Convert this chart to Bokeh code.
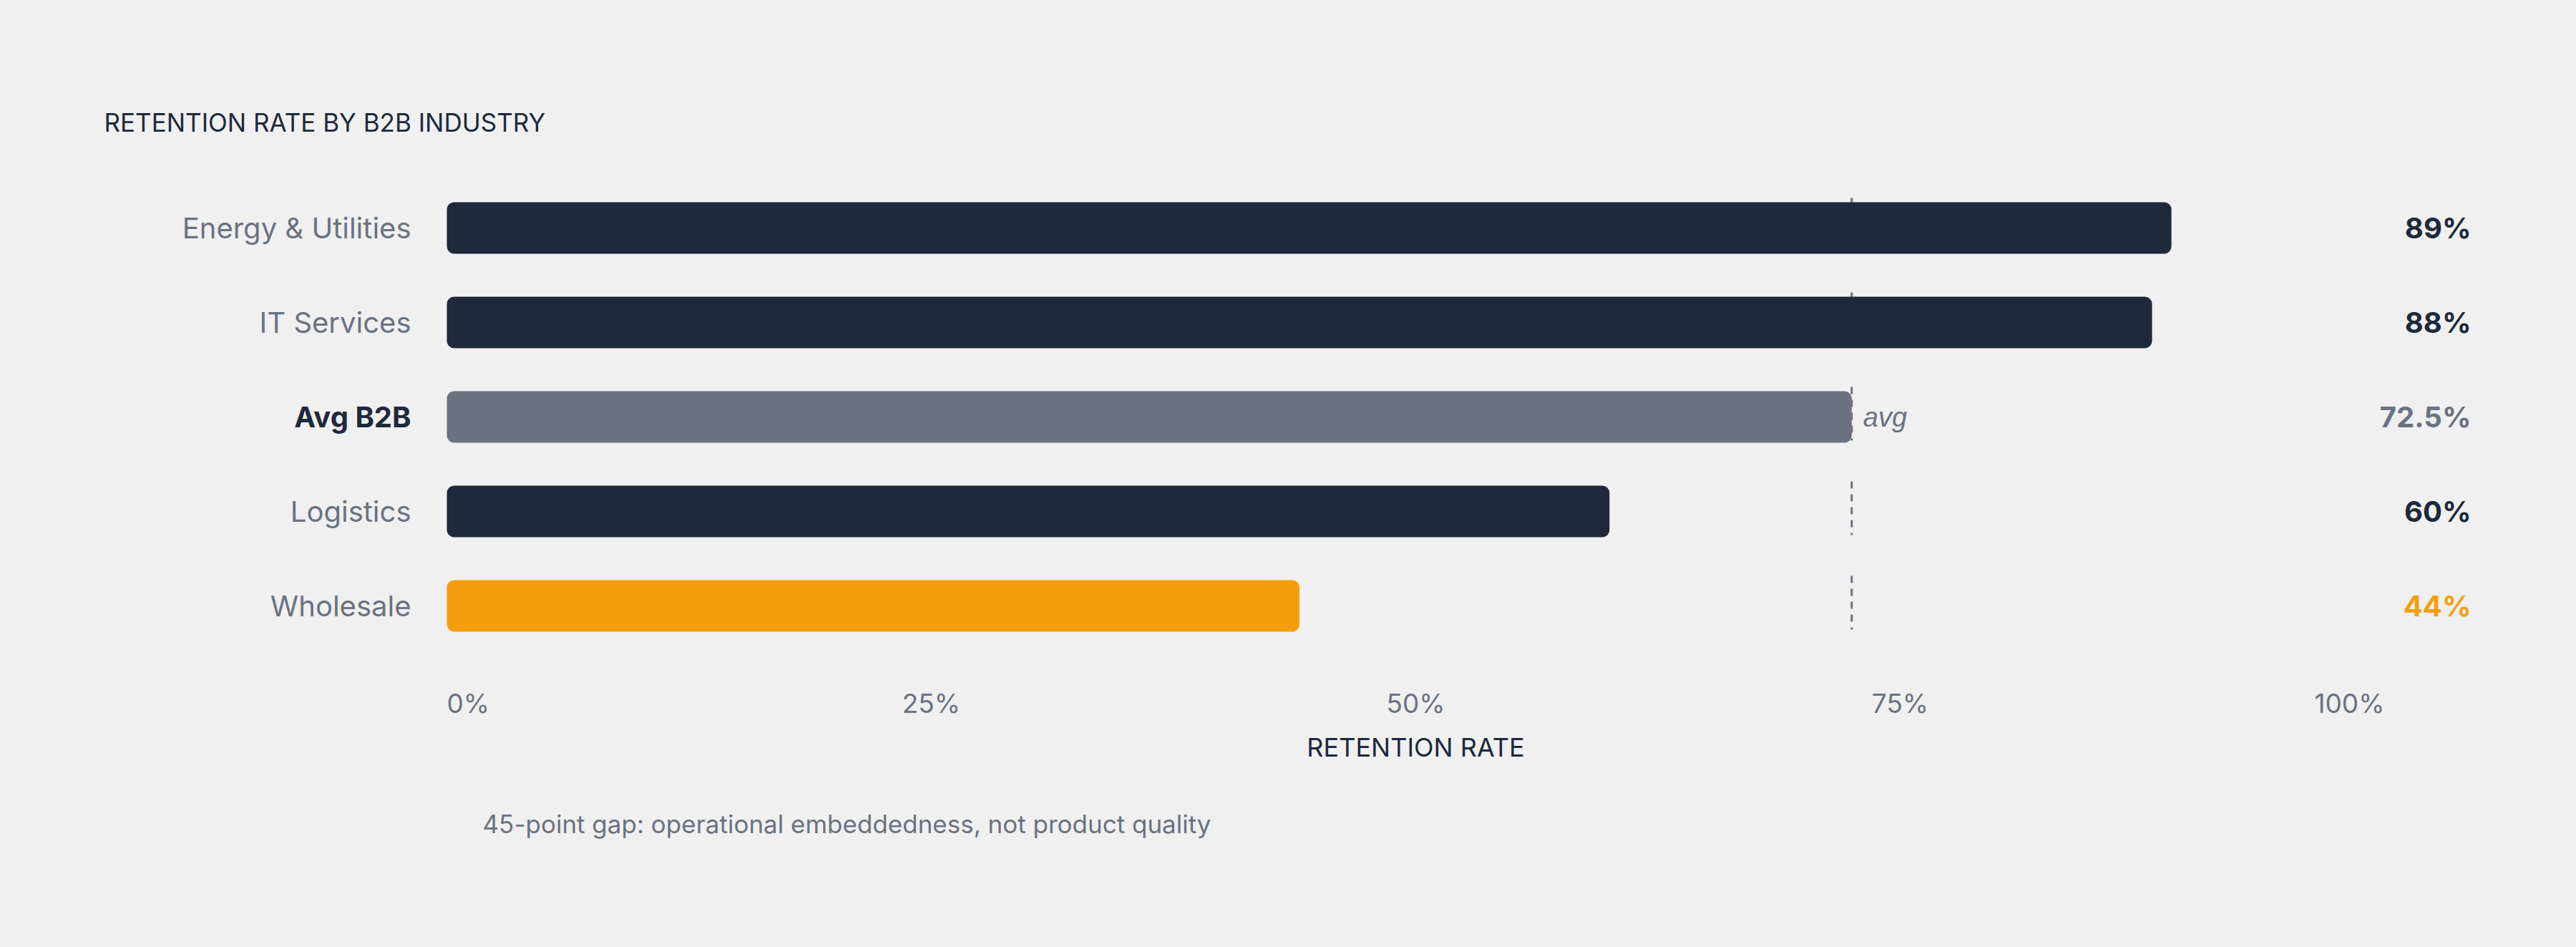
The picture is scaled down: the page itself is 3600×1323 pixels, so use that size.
from bokeh.plotting import figure
from bokeh.models import ColumnDataSource, Range1d
from bokeh.core.properties import value
from bokeh.embed import file_html
from bokeh.resources import INLINE

# data
industries = ["Energy & Utilities", "IT Services", "Avg B2B", "Logistics", "Wholesale"]
retention = [89, 88, 72.5, 60, 44]
value_labels = ["89%", "88%", "72.5%", "60%", "44%"]
avg_b2b = 72.5
tick_values = [0, 25, 50, 75, 100]
tick_labels = ["0%", "25%", "50%", "75%", "100%"]

# styling
DARK, GREY, ORANGE, BG = "#1e293b", "#6b7280", "#f59e0b", "#f0f0f0"
bar_colors = [DARK, DARK, GREY, DARK, ORANGE]
text_colors = [DARK, DARK, GREY, DARK, ORANGE]
name_colors = [GREY, GREY, DARK, GREY, GREY]
name_styles = ["normal", "normal", "bold", "normal", "normal"]

W, H = 3580, 1300
PX = 27.08          # pixels per percentage point
X0 = 624            # pixel position of 0%
ROW0, PITCH, BAR_H = 318, 132, 72
FONT = value("Inter")


def dx(px):
    return (px - X0) / PX


rows = [ROW0 + PITCH * i for i in range(len(industries))]
src = ColumnDataSource(dict(name=industries, val=retention, lab=value_labels, y=rows,
                            bar=bar_colors, txt=text_colors, ncol=name_colors,
                            nsty=name_styles,
                            y0=[r - 42 for r in rows], y1=[r + 33 for r in rows],
                            avg=[avg_b2b] * len(rows)))

p = figure(width=W, height=H, x_range=Range1d(dx(0), dx(W)), y_range=Range1d(H, 0),
           toolbar_location=None, output_backend="svg", min_border=0,
           x_axis_location=None, y_axis_location=None)
p.grid.visible = False
p.outline_line_color = None
p.background_fill_color = BG
p.border_fill_color = BG

# average marker (behind the bars)
p.segment(x0="avg", y0="y0", x1="avg", y1="y1", source=src,
          line_color=GREY, line_width=3, line_dash="10 8")

# bars
p.hbar(y="y", left=0, right="val", height=BAR_H, fill_color="bar", line_color=None,
       border_radius=10, source=src)

# category names
p.text(x=dx(574), y="y", text="name", source=src, text_align="right",
       text_baseline="middle", text_font=FONT, text_font_size="40px",
       text_color="ncol", text_font_style="nsty")

# value labels
p.text(x=dx(3453), y="y", text="lab", source=src, text_align="right",
       text_baseline="middle", text_font=FONT, text_font_size="40px",
       text_color="txt", text_font_style="bold")

# "avg" tag next to the average bar
p.text(x=[avg_b2b], y=[rows[industries.index("Avg B2B")]], text=["avg"], x_offset=16,
       text_align="left", text_baseline="middle", text_font=value("Liberation Sans"),
       text_font_size="38px", text_color=GREY, text_font_style="italic")

# x tick labels
tick_align = ["left"] + ["center"] * (len(tick_values) - 2) + ["right"]
p.text(x=tick_values, y=[982] * len(tick_values), text=tick_labels,
       text_align=tick_align, text_baseline="middle", text_font=FONT,
       text_font_size="37px", text_color=GREY)

# axis title
p.text(x=[50], y=[1043], text=["RETENTION RATE"], text_align="center",
       text_baseline="middle", text_font=FONT, text_font_size="36px", text_color=DARK)

# chart title
p.text(x=[dx(145)], y=[170], text=["RETENTION RATE BY B2B INDUSTRY"], text_align="left",
       text_baseline="middle", text_font=FONT, text_font_size="35px", text_color=DARK)

# footnote
p.text(x=[dx(674)], y=[1150], text=["45-point gap: operational embeddedness, not product quality"],
       text_align="left", text_baseline="middle", text_font=FONT,
       text_font_size="35px", text_color=GREY)

html = file_html(p, INLINE, title="Retention rate by B2B industry")
html = html.replace("<head>", "<head><style>body{background:%s;}</style>" % BG, 1)
open("out.html", "w").write(html)
